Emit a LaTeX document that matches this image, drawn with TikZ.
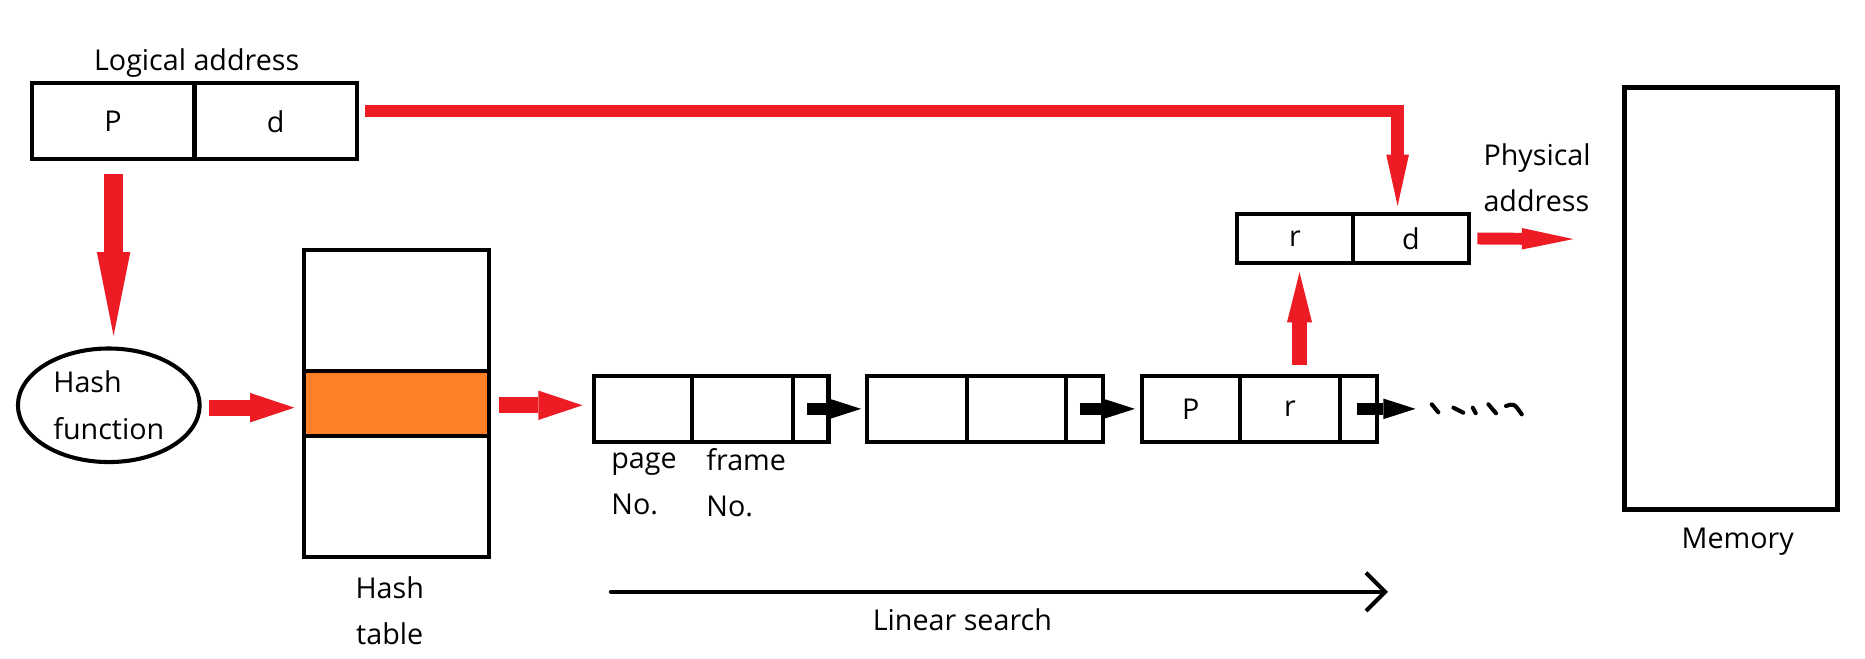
\documentclass[tikz,border=0pt]{standalone}
\usepackage{fontspec}
\setmainfont{Open Sans}
\usetikzlibrary{arrows.meta,shapes.geometric,calc}
\definecolor{myred}{HTML}{ED1C24}
\definecolor{myorange}{HTML}{FF7F27}
\tikzset{
  cell/.style={draw=black, line width=1.7pt, inner sep=0pt, minimum height=27.5pt},
  lab/.style={inner sep=0pt, align=left, font=\fontsize{12}{19.3}\selectfont},
  redarr/.style n args={3}{draw=myred, line width=#1, line join=miter,
     -{Triangle[length=#2, width=#3, line width=0pt]}},
  blkarr/.style={draw=black, line width=5pt, -{Triangle[length=13.4pt, width=8.6pt, line width=0pt]}},
  dash stroke/.style={draw=black, line width=1.7pt, line cap=round}
}
\begin{document}
\begin{tikzpicture}[x=0.5pt,y=-0.5pt, font=\fontsize{12}{19.3}\selectfont]
\useasboundingbox (0,0) rectangle (1560,550.4);
% logical address
\node[lab, anchor=base] (lat) at (164.5,59) {Logical address};
\node[cell, minimum width=68.1pt, minimum height=31.85pt] (lp) at (94.6,101.5) {P};
\node[cell, minimum width=67.9pt, minimum height=31.85pt] (ld) at (230.6,101.5) {d};
% hash function
\node[draw=black, line width=1.7pt, ellipse, minimum width=76pt, minimum height=47.5pt, inner sep=0pt, align=left, font=\fontsize{12}{19.3}\selectfont] (hf) at (91,339) {Hash\\function};
% hash table
\node[cell, minimum width=77.5pt, minimum height=50.5pt] (ht1) at (331.5,259.5) {};
\node[cell, fill=myorange, minimum width=77.5pt, minimum height=27.5pt] (ht2) at (331.5,337.5) {};
\node[cell, minimum width=77.5pt, minimum height=50.5pt] (ht3) at (331.5,415.5) {};
\node[lab, align=center, anchor=north] (htl) at (326,481.8) {Hash\\table};
% chain
\node[cell, minimum width=41pt] (n1a) at (538,342) {};
\node[cell, minimum width=42pt] (n1b) at (621,342) {};
\node[cell, minimum width=15pt] (n1c) at (678,342) {};
\node[cell, minimum width=41.75pt] (n2a) at (767.25,342) {};
\node[cell, minimum width=41.25pt] (n2b) at (850.25,342) {};
\node[cell, minimum width=15.5pt] (n2c) at (907,342) {};
\node[cell, minimum width=41pt] (n3a) at (996,342) {P};
\node[cell, minimum width=42pt] (n3b) at (1079,342) {r};
\node[cell, minimum width=15.5pt] (n3c) at (1136.5,342) {};
\node[lab, anchor=north west] (pno) at (511,378.7) {page\\No.};
\node[lab, anchor=north west] (fno) at (590.5,374.8) {frame\\No.};
% physical address
\node[cell, minimum width=48.25pt, minimum height=20.5pt] (pr) at (1083.25,199.5) {r};
\node[cell, minimum width=48.75pt, minimum height=20.5pt] (pd) at (1180.25,199.5) {d};
\node[lab, anchor=north west] (pal) at (1240.5,119.8) {Physical\\address};
% memory
\node[cell, line width=1.95pt, minimum width=89pt, minimum height=176.5pt] (mem) at (1448,249.5) {};
\node[lab, anchor=base] (meml) at (1453.5,458.5) {Memory};
% coordinates for free ends
\coordinate (physend) at (1316,200);
\coordinate (chainend) at (1184,342);
\coordinate (ls1) at (511,495);
\coordinate (ls2) at (1161,495);
% red connectors
\draw[redarr={5.2pt}{21.5pt}{9.5pt}] ([shift={(2.5pt,4.25pt)}]ld.east) -| ([shift={(-5.6pt,2.5pt)}]pd.north);
\draw[redarr={8pt}{35pt}{14pt}] ([xshift=0.2pt,yshift=-5.4pt]lp.south) -- ([xshift=0.2pt,yshift=4.5pt]lp.south |- hf.north);
\draw[redarr={6.7pt}{18.5pt}{12.3pt}] ([xshift=3.25pt,yshift=-1pt]hf.east) coordinate (a1) -- ([xshift=-3pt]ht2.west |- a1);
\draw[redarr={6.7pt}{18.5pt}{12.3pt}] ([xshift=3.5pt,yshift=-0.75pt]ht2.east) coordinate (a2) -- ([xshift=-4pt]n1a.west |- a2);
\draw[redarr={6.5pt}{21pt}{10.5pt}] ([xshift=4pt,yshift=3.75pt]n3b.north) -- ([xshift=4pt,yshift=-3pt]n3b.north |- pr.south);
\draw[redarr={5pt}{21.5pt}{9pt}] ([xshift=2.5pt]pd.east) -- (physend);
% black chain arrows
\draw[blkarr] ([xshift=-1.5pt]n1c.center) -- ([xshift=-1.75pt]n2a.west);
\draw[blkarr] ([xshift=-2pt]n2c.center) -- ([xshift=-2pt]n3a.west);
\draw[blkarr] ([xshift=-0.75pt]n3c.center) -- (chainend);
% dots
\draw[dash stroke] (1197.6,338.2) -- (1203.1,344.9);
\draw[dash stroke] (1215.7,341) -- (1224,345.2);
\draw[dash stroke] (1231.9,341) -- (1234.4,345.7);
\draw[dash stroke] (1245,338.2) -- (1251.4,345.7);
\draw[dash stroke] (1259.7,339.6) .. controls (1266.5,337.5) .. (1272.9,346.6);
% linear search
\draw[line width=1.7pt, line cap=round, -{Straight Barb[length=8pt, width=16pt]}] (ls1) -- (ls2);
\node[lab, anchor=base] (lsl) at (805,527) {Linear search};
\end{tikzpicture}
\end{document}
